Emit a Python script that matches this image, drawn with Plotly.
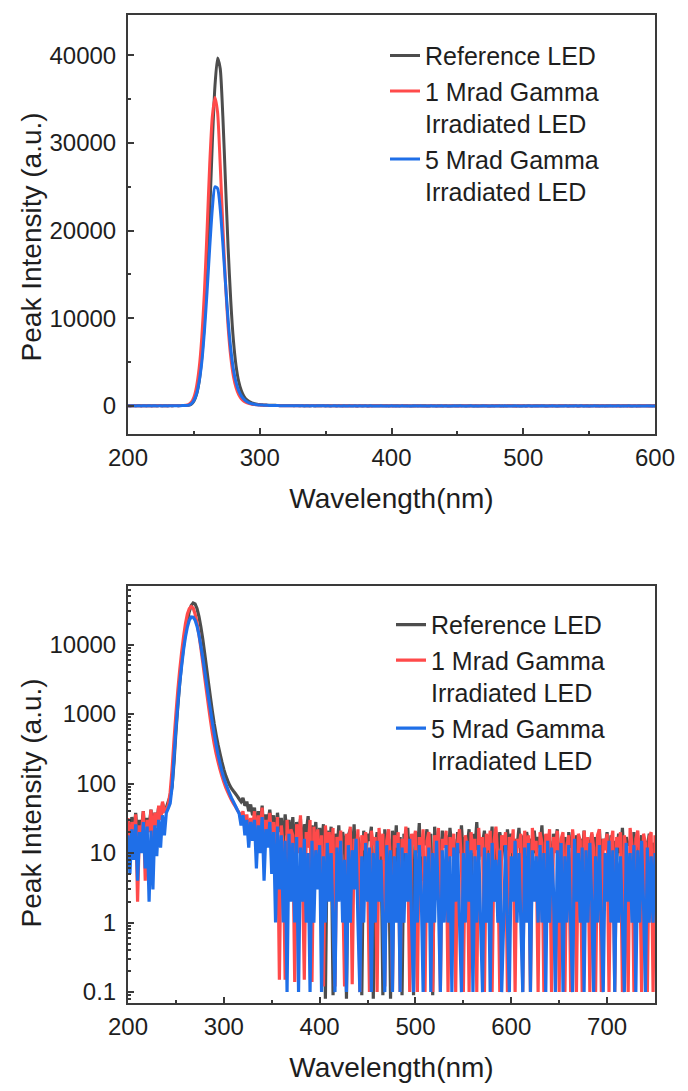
import plotly.graph_objects as go

# ---------------- data ----------------
wavelength = list(range(200, 751, 2))  # nm, 2 nm spectrometer grid

# Reference LED
ref_pre = [28, 14, 33, 18, 38, 15, 30, 22, 40, 17, 32, 24, 42, 20, 38, 28, 46, 32, 52, 40]
ref_peak = [45, 55, 65, 90, 200, 550, 1300, 2800, 5500, 9500,
            15000, 22000, 30000, 36500, 39700, 38500, 33000, 25500, 18000, 12000,
            7500, 4600, 2800, 1750, 1100, 720, 500, 360, 270, 205,
            160, 130, 110, 95, 85, 78, 72, 66, 60, 55,
            62, 48, 55, 40, 50, 35]
ref_tail = [45, 20, 40, 25, 48, 18, 36, 28, 42, 22,
            35, 15, 38, 20, 32, 12, 36, 18, 30, 14,
            33, 11, 28, 17, 31, 8, 26, 20, 34, 12,
            25, 15, 28, 9, 23, 14, 26, 0.08, 21, 12,
            24, 0.09, 19, 10, 25, 6, 20, 14, 0.08, 18,
            22, 9, 26, 4, 17, 12, 0.09, 21, 7, 19,
            15, 24, 0.08, 13, 20, 6, 18, 0.09, 22, 11,
            16, 0.08, 21, 9, 25, 3, 17, 0.09, 19, 12,
            23, 6, 18, 0.09, 20, 10, 27, 4, 16, 13,
            22, 8, 19, 0.09, 24, 11, 17, 5, 21, 14,
            18, 7, 23, 12, 16, 3, 20, 10, 25, 9,
            17, 13, 22, 4, 19, 11, 28, 8, 16, 14,
            21, 6, 18, 12, 24, 2, 17, 10, 20, 13,
            15, 8, 22, 11, 19, 5, 16, 12, 23, 9,
            18, 3, 20, 14, 16, 7, 21, 10, 17, 12,
            25, 6, 18, 11, 15, 4, 19, 13, 22, 8,
            14, 10, 17, 5, 20, 12, 15, 3, 18, 11,
            16, 9, 21, 6, 15, 13, 19, 2, 17, 10,
            22, 7, 16, 12, 20, 4, 18, 11, 15, 8,
            19, 10, 23, 6, 17, 13, 14, 3, 20, 9,
            16, 11, 18, 5, 15, 12, 19, 7, 14, 10]

# 1 Mrad gamma irradiated LED
m1_pre = [32, 10, 28, 15, 36, 2, 25, 18, 40, 4, 30, 20, 42, 14, 38, 24, 48, 30, 55, 40]
m1_peak = [42, 50, 75, 160, 420, 1000, 2200, 4300, 7800, 13000,
           20000, 27500, 33000, 35200, 33500, 27500, 20500, 14000, 9000, 5600,
           3400, 2100, 1300, 830, 540, 370, 270, 205, 160, 128,
           105, 88, 76, 66, 58, 52, 47, 42, 38, 33,
           40, 25, 36, 18, 32, 22]
m1_tail = [40, 14, 35, 22, 45, 12, 30, 18, 38, 15,
           28, 9, 33, 0.15, 25, 12, 0.15, 30, 8, 22,
           18, 0.14, 26, 10, 35, 6, 0.15, 20, 12, 30,
           0.14, 24, 9, 22, 5, 18, 0.12, 25, 11, 20,
           7, 23, 0.12, 17, 10, 21, 4, 0.12, 19, 12,
           24, 0.13, 16, 8, 22, 0.1, 18, 11, 20, 6,
           0.1, 21, 13, 17, 0.1, 23, 9, 19, 0.12, 15,
           22, 7, 0.1, 18, 12, 20, 0.1, 16, 10, 24,
           8, 0.1, 19, 13, 21, 0.1, 17, 9, 22, 0.1,
           15, 20, 6, 0.1, 18, 11, 23, 0.1, 16, 12,
           21, 0.1, 17, 9, 19, 0.1, 14, 22, 8, 0.1,
           18, 12, 0.1, 20, 10, 16, 0.1, 23, 9, 17,
           0.1, 19, 11, 21, 0.1, 15, 24, 8, 0.1, 18,
           13, 20, 0.1, 17, 10, 22, 0.1, 16, 12, 19,
           0.1, 21, 9, 18, 0.1, 23, 11, 15, 0.1, 20,
           14, 0.1, 19, 12, 22, 0.1, 17, 10, 21, 0.1,
           16, 20, 0.1, 13, 18, 0.1, 22, 11, 0.1, 19,
           15, 0.1, 21, 9, 17, 0.1, 20, 12, 0.1, 18,
           22, 0.1, 16, 11, 19, 0.1, 14, 21, 0.1, 17,
           12, 20, 0.1, 18, 10, 0.1, 23, 13, 0.1, 16,
           21, 9, 0.1, 19, 14, 0.1, 17, 20, 0.1, 18]

# 5 Mrad gamma irradiated LED
m5_pre = [18, 5, 22, 8, 26, 4, 20, 10, 28, 6, 24, 2, 21, 3, 25, 9, 30, 12, 35, 18]
m5_peak = [38, 44, 52, 90, 240, 620, 1400, 2800, 5000, 8500,
           13000, 18000, 22500, 25000, 24800, 22500, 18500, 14000, 9800, 6500,
           4200, 2700, 1750, 1150, 760, 520, 360, 260, 195, 150,
           120, 100, 85, 72, 62, 55, 48, 42, 37, 25,
           35, 18, 30, 12, 28, 15]
m5_tail = [30, 6, 25, 10, 33, 4, 22, 12, 28, 5,
           20, 1, 24, 3, 18, 1, 15, 0.1, 19, 2,
           14, 1, 17, 0.1, 12, 2, 16, 1, 10, 0.1,
           15, 1, 11, 3, 13, 0.1, 9, 1, 14, 2,
           10, 1, 0.1, 12, 2, 15, 1, 8, 0.1, 13,
           1, 11, 3, 16, 1, 0.1, 9, 1, 14, 2,
           12, 0.1, 10, 1, 15, 2, 8, 1, 0.1, 13,
           1, 11, 0.1, 9, 1, 14, 0.1, 12, 1, 10,
           2, 16, 1, 0.1, 11, 1, 13, 3, 0.1, 9,
           1, 12, 0.1, 10, 1, 15, 2, 0.1, 11, 1,
           13, 1, 9, 0.1, 12, 2, 14, 1, 0.1, 10,
           1, 15, 2, 11, 0.1, 9, 1, 13, 1, 0.1,
           12, 1, 10, 0.1, 14, 2, 8, 1, 11, 0.1,
           1, 13, 1, 0.1, 9, 2, 15, 1, 10, 1,
           0.1, 12, 1, 14, 0.1, 11, 2, 9, 1, 13,
           1, 10, 0.1, 15, 1, 12, 3, 0.1, 11, 1,
           14, 0.1, 9, 1, 13, 1, 0.1, 16, 2, 10,
           1, 12, 0.1, 11, 1, 14, 2, 0.1, 9, 1,
           13, 1, 0.1, 10, 2, 15, 1, 11, 0.1, 12,
           1, 9, 1, 0.1, 14, 2, 10, 1, 13, 0.1,
           11, 1, 15, 2, 0.1, 12, 1, 9, 1, 10]

series_names = ["Reference LED", "1 Mrad Gamma<br>Irradiated LED", "5 Mrad Gamma<br>Irradiated LED"]
series_values = [ref_pre + ref_peak + ref_tail,
                 m1_pre + m1_peak + m1_tail,
                 m5_pre + m5_peak + m5_tail]
series_colors = ["#4d4d4d", "#ff4a4a", "#1f6fe8"]

lin_ticks = [0, 10000, 20000, 30000, 40000]
log_ticks = [0.1, 1, 10, 100, 1000, 10000]
log_ticktext = ["0.1", "1", "10", "100", "1000", "10000"]
log_minor = [m * 10 ** e for e in range(-2, 5) for m in range(2, 10)]

# ---------------- figure ----------------
fig = go.Figure()
for name, vals, col in zip(series_names, series_values, series_colors):
    fig.add_trace(go.Scatter(x=wavelength, y=vals, name=name, mode="lines",
                             line=dict(color=col, width=3, shape="spline", smoothing=0.6),
                             xaxis="x", yaxis="y", legend="legend"))
for name, vals, col in zip(series_names, series_values, series_colors):
    fig.add_trace(go.Scatter(x=wavelength, y=vals, name=name, mode="lines",
                             line=dict(color=col, width=3.2, simplify=False),
                             xaxis="x2", yaxis="y2", legend="legend2"))

FONT = "Liberation Sans, Arial, Helvetica, sans-serif"
INK = "#1e1e1e"
FRAME = "#3a3a3a"
axis_common = dict(showline=True, linecolor=FRAME, linewidth=2, mirror=True,
                   ticks="inside", ticklen=6, tickwidth=2, tickcolor=FRAME,
                   showgrid=False, zeroline=False,
                   tickfont=dict(family=FONT, size=24, color=INK))
xtitle = dict(text="Wavelength(nm)", font=dict(family=FONT, size=28, color=INK), standoff=19)
minor_lin = dict(ticks="inside", ticklen=3, tickwidth=2, tickcolor=FRAME)

# page body adds an 8 px margin, so the figure is 16 px smaller than the window
W, H = 672, 1075
L, R, T, B = 120, 25, 5, 75
H_PLOT = H - T - B  # 995
W_PLOT = W - L - R  # 527


def px_x(px):
    return (px - L) / W_PLOT


def px_y(py):
    return (H - B - py) / H_PLOT


ytitle_font = dict(family=FONT, size=28, color=INK)
annotations = [
    dict(text="Peak Intensity (a.u.)", textangle=-90, xref="paper", yref="paper",
         x=px_x(23), y=px_y(229), xanchor="center", yanchor="middle",
         showarrow=False, font=ytitle_font),
    dict(text="Peak Intensity (a.u.)", textangle=-90, xref="paper", yref="paper",
         x=px_x(23), y=px_y(799), xanchor="center", yanchor="middle",
         showarrow=False, font=ytitle_font),
]

fig.update_layout(
    width=W, height=H,
    margin=dict(l=L, r=R, t=T, b=B),
    paper_bgcolor="white", plot_bgcolor="white",
    showlegend=True,
    annotations=annotations,
    xaxis=dict(domain=[0, 1], anchor="y", range=[200, 600], tick0=200, dtick=100,
               minor=dict(dtick=50, **minor_lin),
               ticklabelstandoff=1, title=xtitle, **axis_common),
    yaxis=dict(domain=[px_y(427), 1], anchor="x", range=[-3200, 44600],
               tickvals=lin_ticks, tickformat="d",
               minor=dict(dtick=5000, **minor_lin),
               ticklabelstandoff=5, **axis_common),
    xaxis2=dict(domain=[0, 1], anchor="y2", range=[200, 750], tick0=200, dtick=100,
                minor=dict(dtick=50, **minor_lin),
                ticklabelstandoff=1, title=xtitle, **axis_common),
    yaxis2=dict(domain=[0, px_y(580)], anchor="x2", type="log",
                range=[-1.157, 4.843], tickmode="array", tickvals=log_ticks, ticktext=log_ticktext,
                minor=dict(tickmode="array", tickvals=log_minor, ticks="inside", ticklen=3,
                           tickwidth=1.5, tickcolor=FRAME),
                ticklabelstandoff=5, **axis_common),
    legend=dict(x=px_x(377), xanchor="left", y=px_y(23), yanchor="top",
                font=dict(family=FONT, size=25, color=INK), valign="top",
                bgcolor="rgba(0,0,0,0)", borderwidth=0, tracegroupgap=0),
    legend2=dict(x=px_x(383), xanchor="left", y=px_y(596), yanchor="top",
                 font=dict(family=FONT, size=25, color=INK), valign="top",
                 bgcolor="rgba(0,0,0,0)", borderwidth=0, tracegroupgap=0),
)

fig.write_html("out.html")
